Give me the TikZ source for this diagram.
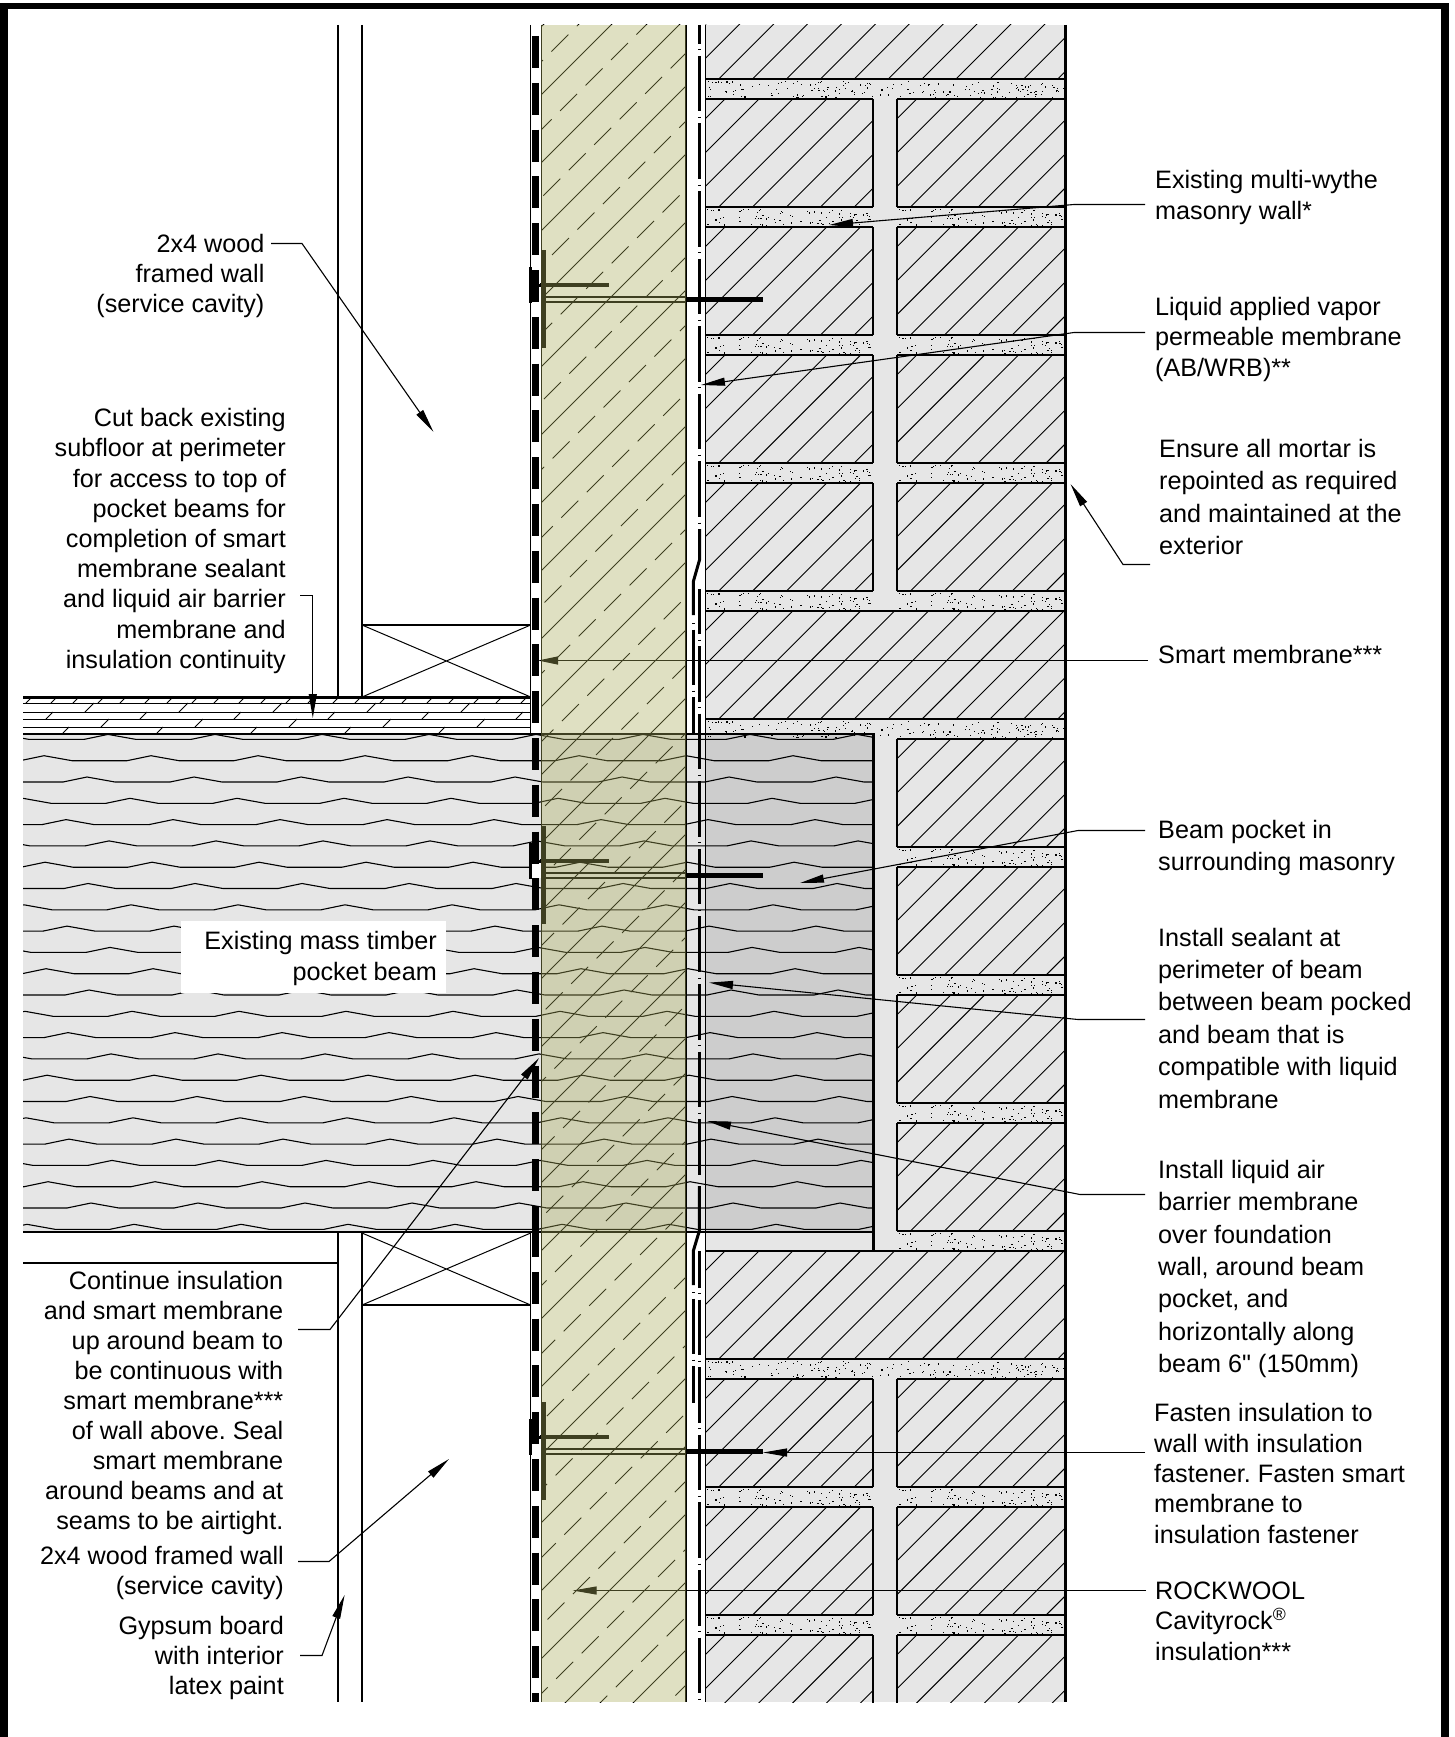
\documentclass[tikz,border=0pt]{standalone}
\usepackage{fontspec}
\setmainfont{Liberation Sans}
\newfontfamily\plainf{Liberation Sans}
\usetikzlibrary{arrows.meta}
\definecolor{brickgray}{RGB}{230,230,230}
\definecolor{insol}{RGB}{170,172,90}
\tikzset{
  thin line/.style={line width=0.9pt,black},
  hatchline/.style={line width=0.9pt,black},
  wallline/.style={line width=2pt,black},
  leader/.style={line width=1.1pt,black,line join=miter,-{Triangle[length=24pt,width=8pt]}},
  lblL/.style={anchor=west,align=left,font=\fontsize{25.2}{#1}\selectfont\frenchspacing,inner sep=0pt},
  lblR/.style={anchor=east,align=right,font=\fontsize{25.2}{#1}\selectfont\frenchspacing,inner sep=0pt},
  abline/.style={line width=3pt,black},
  abdash/.style={abline,dash pattern=on 55.6pt off 5.5pt on 1pt off 5.5pt,dash phase=#1pt},
}
\newcommand\hatchbrick[5]{%
  \begin{scope}
    \clip (#1,#2) rectangle (#3,#4);
    \foreach \k in {-4,...,#5}{\draw[hatchline] ({#1+13.2+33.9*\k},#4) -- ++(160,-160);}
  \end{scope}
}
\newcommand\mortardots[4]{%
  \pgfmathsetseed{4711}%
  \pgfmathtruncatemacro\ndots{(#3-#1)*0.5}%
  \foreach \i in {1,...,\ndots}{%
    \pgfmathsetmacro\aa{#1+1+rnd*(#3-#1-2)}%
    \pgfmathsetmacro\bb{#2+1.5+rnd*(#4-#2-3)}%
    \fill[black] (\aa,\bb) rectangle ++(1.2,1.2);}%
}
\newcommand\mortar[4]{%
  \mortardots{#1}{#2}{#3}{#4}%
  \draw[thin line,line width=1.2pt] (#1,#2) -- (#3,#2) (#1,#4) -- (#3,#4);
}
\newcommand\fastener[1]{%
  \fill[black] (528.5,#1-18) rectangle (532.3,#1+18);
  \draw[line width=3pt] (530,#1) -- (542,#1);
  \draw[line width=5pt] (543.2,#1-35) -- (543.2,#1+63);
  \draw[line width=4pt] (540,#1) -- (609,#1);
  \draw[line width=2.4pt] (545,#1+12) -- (686,#1+12) (545,#1+17) -- (686,#1+17);
  \draw[line width=5pt] (686,#1+14.5) -- (763,#1+14.5);
}
\begin{document}
\begin{tikzpicture}[x=1pt,y=-1pt]
\useasboundingbox (0,0) rectangle (1454,1737);
\fill[white] (0,0) rectangle (1454,1737);
% ---- masonry ----
\begin{scope}
\clip (705,25) rectangle (1067,1702);
\fill[brickgray] (705.5,25) rectangle (1065.5,1702);
\hatchbrick{705.5}{25}{1065.5}{79}{11}
\foreach \t/\b in {99/207,227/335,355/463,483/591,1379/1487,1507/1615,1635/1743}{
  \hatchbrick{705.5}{\t}{873.3}{\b}{6}
  \hatchbrick{897.3}{\t}{1065.5}{\b}{6}
  \draw[wallline] (873.3,\t) -- (873.3,\b) (897.3,\t) -- (897.3,\b);
}
\foreach \t/\b in {739/847,867/975,995/1103,1123/1231}{
  \hatchbrick{897.3}{\t}{1065.5}{\b}{6}
  \draw[wallline] (897.3,\t) -- (897.3,\b);
}
\hatchbrick{705.5}{611}{1065.5}{719}{12}
\hatchbrick{705.5}{1251}{1065.5}{1359}{12}
\mortardots{705.5}{79}{1065.5}{99}
\mortardots{705.5}{719}{1065.5}{739}
\mortardots{705.5}{1359}{1065.5}{1379}
\draw[thin line,line width=1.2pt] (705.5,79) -- (1065.5,79) (705.5,99) -- (873.3,99) (897.3,99) -- (1065.5,99);
\draw[thin line,line width=1.2pt] (705.5,719) -- (1065.5,719) (897.3,739) -- (1065.5,739);
\draw[thin line,line width=1.2pt] (705.5,1359) -- (1065.5,1359) (705.5,1379) -- (873.3,1379) (897.3,1379) -- (1065.5,1379);
\foreach \t/\b in {207/227,335/355,463/483,591/611,1487/1507,1615/1635}{
  \mortar{705.5}{\t}{873.3}{\b}
  \mortar{897.3}{\t}{1065.5}{\b}
}
\foreach \t/\b in {847/867,975/995,1103/1123,1231/1251}{
  \mortar{897.3}{\t}{1065.5}{\b}
}
\draw[thin line,line width=1.2pt] (705.5,611) -- (1065.5,611) (705.5,1251) -- (1065.5,1251);
\end{scope}
% ---- beam ----
\fill[brickgray] (23,734) rectangle (705.5,1232);
\fill[black,opacity=0.105] (705.5,734) rectangle (873.3,1232);
\foreach \k in {-1,...,22}{
  \pgfmathsetmacro\base{760.7+21.3*\k}
  \pgfmathsetmacro\ph{mod(108+43*(\k+1)+4280,107)-214}
  \begin{scope}
    \clip (23,734) rectangle (873.3,1232);
    \foreach \n in {0,...,10}{
      \pgfmathsetmacro\pk{\ph+107*\n}
      \draw[line width=1.1pt,line join=bevel] ({\pk-24},\base) -- (\pk,\base-5) -- ({\pk+28},\base) -- ({\pk+83},\base);
    }
  \end{scope}
}
% ---- floor ----
\foreach \yy in {703,712,719,727}{\draw[line width=1pt] (23,\yy) -- (530.5,\yy);}
\begin{scope}
  \clip (23,697) rectangle (530.5,735);
  \foreach \n in {0,...,11}{
    \draw[line width=0.9pt] ({26+47*\n},703) -- ++(6,-6);
    \draw[line width=0.9pt] ({51+47*\n},703) -- ++(6,-6);
  }
  \foreach \n in {0,...,5}{
    \draw[line width=0.9pt] ({85+94*\n},712) -- ++(9,-9);
    \draw[line width=0.9pt] ({46+94*\n},719) -- ++(7,-7);
    \draw[line width=0.9pt] ({101+94*\n},727) -- ++(8,-8);
    \draw[line width=0.9pt] ({63+94*\n},733) -- ++(6,-6);
  }
\end{scope}
\draw[line width=3pt] (23,697) -- (531,697);
\draw[line width=2.5pt] (23,734) -- (873.3,734);
\draw[line width=2.5pt] (23,1232) -- (873.3,1232);
\draw[line width=3pt] (873.3,733) -- (873.3,1252);
\draw[line width=2pt] (705.5,1251) -- (873.3,1251);
% ---- stud walls ----
\draw[wallline] (338,25) -- (338,697) (362,25) -- (362,697);
\draw[wallline] (338,1232) -- (338,1702) (362,1232) -- (362,1702);
\draw[wallline] (23,1263) -- (338,1263);
\draw[wallline] (362,625) -- (530.7,625);
\draw[wallline] (362,1305) -- (530.7,1305);
\draw[line width=1pt] (362,625) -- (530.7,697) (362,697) -- (530.7,625);
\draw[line width=1pt] (362,1233) -- (530.7,1305) (362,1305) -- (530.7,1233);
% ---- masonry outer edges ----
\draw[line width=1.8pt] (705.5,25) -- (705.5,1702);
\draw[line width=2.4pt] (1065.5,25) -- (1065.5,1702);
% ---- AB/WRB membrane ----
\draw[abdash=36.8] (699.5,25) -- (699.5,524);
\draw[abline,line join=round] (699.5,529) -- (699.5,560) -- (693.3,581.7) -- (693.3,615);
\draw[abdash=56] (693.3,618) -- (693.3,733);
\draw[abdash=10.6] (699.3,589) -- (699.3,1175);
\draw[abline,line join=round] (699.3,1186) -- (699.3,1231) -- (693.3,1251) -- (693.3,1285);
\draw[abdash=56] (693.3,1287) -- (693.3,1403);
\draw[abdash=19] (699.3,1251) -- (699.3,1702);
% ---- smart membrane ----
\draw[line width=1.2pt] (530.7,25) -- (530.7,734) (530.7,1232) -- (530.7,1702);
\fill[white] (532,863) rectangle (541,878);
\draw[line width=7.5pt,dash pattern=on 32pt off 14.8pt,dash phase=35.8pt] (535.3,25) -- (535.3,1232);
\draw[line width=7.5pt,dash pattern=on 32pt off 14.8pt,dash phase=8pt] (535.3,1233) -- (535.3,1702);
% ---- insulation hatching ----
\begin{scope}
  \clip (541.3,25) rectangle (685.7,1702);
  \foreach \k in {-1,...,26}{
    \pgfmathsetmacro\s{636+68*\k}
    \draw[hatchline] (535,\s-535) -- (690,\s-690);
    \pgfmathsetmacro\sd{603+68*\k}
    \pgfmathsetmacro\xo{mod(561+8.7*(\k+10),25.5)+490}
    \draw[hatchline,dash pattern=on 24pt off 12pt] (\xo,\sd-\xo) -- (695,\sd-695);
  }
\end{scope}
\draw[line width=1.1pt] (541.3,25) -- (541.3,1702);
\draw[line width=1.8pt] (685.7,25) -- (685.7,1702);
% ---- fasteners ----
\fastener{285}
\fastener{861}
\fastener{1437}
% ---- leaders passing under the insulation ----
\coordinate (smA) at (1148,660.5);
\coordinate (smT) at (538,660.5);
\draw[leader,-{Triangle[length=20pt,width=8pt]}] (smA) -- (smT);
\coordinate (rkA) at (1146,1590.5);
\coordinate (rkT) at (572.7,1590.5);
\draw[leader] (rkA) -- (rkT);
% ---- insulation overlay ----
\fill[insol,opacity=0.37] (541.3,25) rectangle (685.7,1702);
% ---- white box ----
\fill[white] (181,921) rectangle (446,993);
% ---- labels ----
\node[lblL=31] (l1) at (1155,197.5) {Existing multi-wythe\\masonry wall*};
\node[lblL=30.5] (l2) at (1155,339) {Liquid applied vapor\\permeable membrane\\(AB/WRB)**};
\node[lblL=32.2] (l3) at (1159,497) {Ensure all mortar is\\repointed as required\\and maintained at the\\exterior};
\node[lblL=30] (l4) at (1158,654) {Smart membrane***};
\node[lblL=32] (l5) at (1158,848) {Beam pocket in\\surrounding masonry};
\node[lblL=32.4] (l6) at (1158,1018) {Install sealant at\\perimeter of beam\\between beam pocked\\and beam that is\\compatible with liquid\\membrane};
\node[lblL=32.4] (l7) at (1158,1269) {Install liquid air\\barrier membrane\\over foundation\\wall, around beam\\pocket, and\\horizontally along\\beam 6{\plainf"} (150mm)};
\node[lblL=30.4] (l8) at (1154,1473.5) {Fasten insulation to\\wall with insulation\\fastener. Fasten smart\\membrane to\\insulation fastener};
\node[lblL=30.4] (l9) at (1155,1621) {ROCKWOOL\\Cavityrock\textsuperscript{®}\\insulation***};
\node[lblR=30] (r1) at (264.6,276) {2x4 wood\\framed wall\\(service cavity)};
\node[lblR=30.2] (r2) at (286,541) {Cut back existing\\subfloor at perimeter\\for access to top of\\pocket beams for\\completion of smart\\membrane sealant\\and liquid air barrier\\membrane and\\insulation continuity};
\node[lblR=30.5] (r3) at (437,958.5) {Existing mass timber\\pocket beam};
\node[lblR=30.1] (r4) at (283.5,1403) {Continue insulation\\and smart membrane\\up around beam to\\be continuous with\\smart membrane***\\of wall above. Seal\\smart membrane\\around beams and at\\seams to be airtight.};
\node[lblR=30] (r5) at (284,1573) {2x4 wood framed wall\\(service cavity)};
\node[lblR=30] (r6) at (284,1658) {Gypsum board\\with interior\\latex paint};
% ---- leaders ----
\coordinate (a1) at (1145,204.5); \coordinate (b1) at (1074,204.5); \coordinate (t1) at (829,225);
\draw[leader] (a1) -- (b1) -- (t1);
\coordinate (a2) at (1145,332.5); \coordinate (b2) at (1074,332.5); \coordinate (t2) at (701,385);
\draw[leader] (a2) -- (b2) -- (t2);
\coordinate (a3) at (1150,564.5); \coordinate (b3) at (1123,564.5); \coordinate (t3) at (1070.5,484);
\draw[leader] (a3) -- (b3) -- (t3);
\coordinate (a5) at (1145,830.5); \coordinate (b5) at (1078,830.5); \coordinate (t5) at (800,883);
\draw[leader] (a5) -- (b5) -- (t5);
\coordinate (a6) at (1145,1019.5); \coordinate (b6) at (1078,1019.5); \coordinate (t6) at (709,982.6);
\draw[leader] (a6) -- (b6) -- (t6);
\coordinate (a7) at (1145,1194.5); \coordinate (b7) at (1080,1194.5); \coordinate (t7) at (707,1121);
\draw[leader] (a7) -- (b7) -- (t7);
\coordinate (a8) at (1145,1452.5); \coordinate (t8) at (763,1452.5);
\draw[leader] (a8) -- (t8);
\coordinate (c1) at (271,243.5); \coordinate (d1) at (302,243.5); \coordinate (e1) at (433.5,432);
\draw[leader] (c1) -- (d1) -- (e1);
\coordinate (c2) at (300,595.5); \coordinate (d2) at (312.8,595.5); \coordinate (e2) at (312.8,718);
\draw[leader] (c2) -- (d2) -- (e2);
\coordinate (c4) at (298,1329.5); \coordinate (d4) at (330,1329.5); \coordinate (e4) at (539,1058);
\draw[leader] (c4) -- (d4) -- (e4);
\coordinate (c5) at (298,1561.5); \coordinate (d5) at (329,1561.5); \coordinate (e5) at (449,1459);
\draw[leader] (c5) -- (d5) -- (e5);
\coordinate (c6) at (300,1655.5); \coordinate (d6) at (322,1655.5); \coordinate (e6) at (344.6,1595);
\draw[leader] (c6) -- (d6) -- (e6);
% ---- frame: top, left and right only ----
\fill[black] (0,3) rectangle (1448.5,9.5);
\fill[black] (0,3) rectangle (7.5,1737);
\fill[black] (1441,3) rectangle (1448.5,1737);
\end{tikzpicture}
\end{document}
